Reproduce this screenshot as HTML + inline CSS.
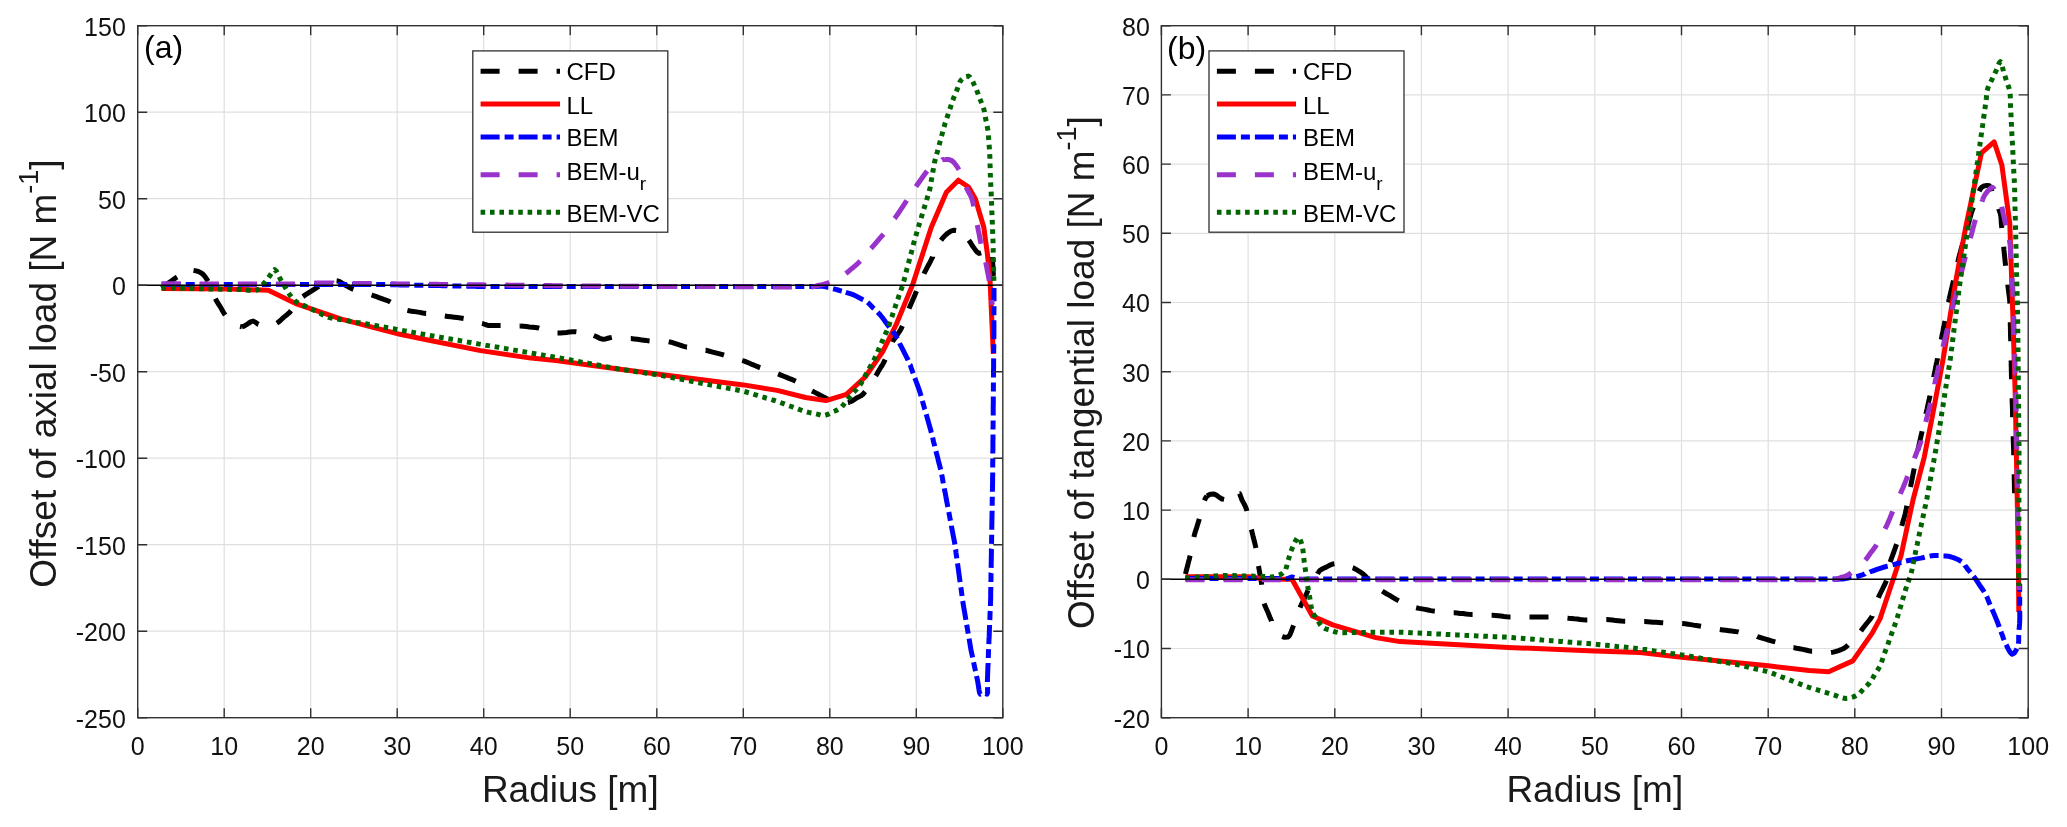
<!DOCTYPE html><html><head><meta charset="utf-8"><style>html,body{margin:0;padding:0;background:#fff;width:2067px;height:827px;overflow:hidden}svg{display:block;font-family:"Liberation Sans",sans-serif;will-change:transform}</style></head><body><svg width="2067" height="827" viewBox="0 0 2067 827" font-family="Liberation Sans, sans-serif"><rect width="2067" height="827" fill="#fff"/><g stroke="#dfdfdf" stroke-width="1.2"><line x1="224.2" y1="25.7" x2="224.2" y2="717.7"/><line x1="310.7" y1="25.7" x2="310.7" y2="717.7"/><line x1="397.2" y1="25.7" x2="397.2" y2="717.7"/><line x1="483.7" y1="25.7" x2="483.7" y2="717.7"/><line x1="570.2" y1="25.7" x2="570.2" y2="717.7"/><line x1="656.8" y1="25.7" x2="656.8" y2="717.7"/><line x1="743.3" y1="25.7" x2="743.3" y2="717.7"/><line x1="829.8" y1="25.7" x2="829.8" y2="717.7"/><line x1="916.3" y1="25.7" x2="916.3" y2="717.7"/><line x1="137.7" y1="631.2" x2="1002.8" y2="631.2"/><line x1="137.7" y1="544.7" x2="1002.8" y2="544.7"/><line x1="137.7" y1="458.2" x2="1002.8" y2="458.2"/><line x1="137.7" y1="371.7" x2="1002.8" y2="371.7"/><line x1="137.7" y1="285.2" x2="1002.8" y2="285.2"/><line x1="137.7" y1="198.7" x2="1002.8" y2="198.7"/><line x1="137.7" y1="112.2" x2="1002.8" y2="112.2"/></g><g stroke="#dfdfdf" stroke-width="1.2"><line x1="1248.1" y1="25.7" x2="1248.1" y2="717.7"/><line x1="1334.8" y1="25.7" x2="1334.8" y2="717.7"/><line x1="1421.4" y1="25.7" x2="1421.4" y2="717.7"/><line x1="1508.1" y1="25.7" x2="1508.1" y2="717.7"/><line x1="1594.8" y1="25.7" x2="1594.8" y2="717.7"/><line x1="1681.5" y1="25.7" x2="1681.5" y2="717.7"/><line x1="1768.2" y1="25.7" x2="1768.2" y2="717.7"/><line x1="1854.8" y1="25.7" x2="1854.8" y2="717.7"/><line x1="1941.5" y1="25.7" x2="1941.5" y2="717.7"/><line x1="1161.4" y1="648.5" x2="2028.2" y2="648.5"/><line x1="1161.4" y1="579.3" x2="2028.2" y2="579.3"/><line x1="1161.4" y1="510.1" x2="2028.2" y2="510.1"/><line x1="1161.4" y1="440.9" x2="2028.2" y2="440.9"/><line x1="1161.4" y1="371.7" x2="2028.2" y2="371.7"/><line x1="1161.4" y1="302.5" x2="2028.2" y2="302.5"/><line x1="1161.4" y1="233.3" x2="2028.2" y2="233.3"/><line x1="1161.4" y1="164.1" x2="2028.2" y2="164.1"/><line x1="1161.4" y1="94.9" x2="2028.2" y2="94.9"/></g><g fill="none" stroke-width="5" stroke-linejoin="round"><path d="M161.6 288 L164.1 286.2 L166.6 284.4 L169.1 282.6 L171.6 280.9 L174 279.1 L176.6 277.3 L177.1 277M193.5 270.5 L196.2 270.9 L198.8 271.7 L201.3 272.9 L203.7 275 L205.8 277.7 L207.6 280.6 L208 281.3M215.4 298.7 L215.8 299.5 L217.3 302.2 L219 304.9 L220.7 307.5 L222.2 310.2 L223.7 312.9 L225.2 315M240 326.4 L241.9 326.8 L241.9 326.8M241.9 326.8 L244.1 326.1 L246.5 324.7 L248.9 323 L251.2 321.6 L253.2 321.1 L255.7 322.4 L258.2 324.3 L258.5 324.4M276.8 323.2 L277.1 323 L279.4 321.4 L281.4 319.5 L283.4 317.6 L285.5 315.9 L287.6 314.2 L289.7 312.3 L291 310.7M302.9 296.6 L305.3 294.9 L307.7 293.4 L310.1 291.9 L312.5 290.3 L314.9 288.8 L317.4 287.2 L318.9 286.3M336.6 280.8 L337.5 280.9 L340.2 281.9 L342.6 283.5 L345.1 285 L347.5 286.4 L350 287.8 L352.6 289.1 L353.4 289.4M371.6 294.9 L372.7 295.3 L372.7 295.3M372.7 295.3 L375.6 296.3 L378.3 297.4 L381 298.4 L383.8 299.4 L386.6 300.3 L389.4 301.5 L390.4 302.1M407.4 310.4 L410.1 311 L413.3 311.4 L416.5 311.9 L419.7 312.4 L422.8 313 L426 313.5 L426.1 313.5M444.8 316 L447.9 316.4 L451.1 316.8 L454.2 317.2 L457.3 317.6 L460.5 318 L463.6 318.5 L463.6 318.5M482 323.4 L482.5 323.5 L485.2 324.5 L488 325.4 L490.2 325.6 L492.8 325.6 L495.5 325.5 L498.3 325.4 L500.6 325.4M519.6 326 L520.3 326 L520.3 326M520.3 326 L523.4 326.3 L526.4 326.6 L529.4 327 L532.4 327.3 L535.5 327.6 L538.5 328 L539.2 328.2M557.5 333 L560.4 333 L563.5 332.7 L566.5 332.4 L569.5 332 L572.6 331.7 L575.6 331.7 L576.4 331.8M593.8 335.5 L596.7 336.8 L599.6 338.3 L602.6 339.2 L605.7 338.9 L608.8 338 L611.8 337.4M630.8 338.6 L631 338.6 L634.2 338.9 L637.3 339.3 L640.5 339.8 L643.6 340.2 L646.7 340.6 L649.6 340.9M668.7 341.7 L671.7 342.4 L674.7 343.4 L677.8 344.4 L680.8 345.4 L683.8 346.4 L686.8 347.2 L686.9 347.2M705.6 350.3 L705.7 350.3 L708.7 351 L711.7 351.8 L714.7 352.6 L717.7 353.4 L720.7 354.2 L723.7 355 L724 355.1M742.2 360.4 L742.6 360.5 L742.6 360.5M742.6 360.5 L745.5 361.6 L748.4 362.8 L751.2 364.1 L754.1 365.2 L757 366.4 L759.9 367.6 L760.2 367.7M778.1 373.9 L780.9 375.1 L783.8 376.3 L786.6 377.4 L789.5 378.6 L792.4 379.7 L795.3 381 L795.7 381.2M812 390.9 L812.6 391.2 L812.6 391.2M812.6 391.2 L814.9 392.4 L817.1 393.6 L819.3 394.7 L821.5 395.9 L823.6 397 L826 398.2 L828.2 399.2 L829.5 399.9M847.9 402.6 L849.5 402.2 L849.5 402.2M849.5 402.2 L851.9 401.1 L854.1 399.7 L856.2 398.2 L858.5 397.1 L860.8 395.9 L862.9 394.3 L864.5 392.4 L865.1 391.7M875.7 375.9 L876.6 374.5 L878 372 L879.5 369.5 L881 367 L882.6 364.6 L884 362 L885.1 359.5M892.3 341.9 L892.5 341.4 L894.3 339 L896 336.5 L897.7 334.1 L899.4 331.6 L901 329 L902.1 326.6 L902.4 325.9M909 308.6 L910.1 306 L911.2 303.5 L912.3 301 L913.4 298.4 L914.5 295.9 L915.6 293.3 L916.5 291.1M924 273.7 L924.9 271.8 L926.2 269.3 L927.5 266.8 L928.9 264.3 L930.2 261.8 L931.5 259.2 L932.7 256.9 L932.7 256.8M941 240.3 L942.6 238.2 L944.3 236.3 L946.2 234.5 L948 233 L950.9 231.1 L954 230.2 L956.1 230.5M968.8 240.3 L970.6 242.8 L972.2 245.5 L973.9 247.9 L975.5 250.1 L977.2 252.2 L979 253.4 L981.2 252.8M992.3 257 L992.3 257.2 L992.5 260.6 L992.7 263.2 L992.9 265.8 L993 268.5 L993.1 271.1 L993.2 273.8 L993.4 276" stroke="#000"/><path d="M161.5 288.6 L230 289 L268.3 290.3 L297.2 304.2 L341.3 319.2 L400 334.3 L430.3 340.5 L480.6 350.6 L531 358.1 L556 360.6 L620 369.2 L657 373.9 L743.4 384.9 L777.2 390.4 L805.5 397.5 L826 400.6 L846.4 394.3 L865.2 377 L882.6 351.8 L895.9 325.2 L912.6 284.8 L931.3 227.3 L946.4 192.3 L958.4 180.2 L968.5 187 L975.3 198.8 L983.8 227.3 L987.4 253.9 L990 279.3 L993.3 353.8" stroke="#f00"/><path d="M161.6 284.5 L164.3 284.5 L167.1 284.5 L169.8 284.5 L172.5 284.5 L175.2 284.5 L178 284.5 L180.7 284.5M185.7 284.5 L186.2 284.5 L188.9 284.5 L191.6 284.5 L194.4 284.5 L194.7 284.5M199.7 284.5 L199.8 284.5 L202.6 284.5 L205.3 284.5 L208 284.5 L210.7 284.5 L213.5 284.5 L216.2 284.5 L218.8 284.5M223.8 284.5 L224.4 284.5 L227.1 284.5 L229.8 284.5 L232.6 284.5 L232.8 284.5M237.8 284.5 L238 284.5 L240.8 284.5 L243.5 284.5 L246.2 284.5 L249 284.5 L251.7 284.5 L254.4 284.5 L256.9 284.5M261.9 284.5 L262.6 284.5 L265.3 284.5 L268.1 284.5 L270.8 284.5 L270.9 284.5M275.9 284.5 L276.3 284.5 L279 284.5 L281.7 284.5 L284.4 284.5 L287.2 284.5 L289.9 284.5 L292.6 284.5 L295 284.5M300 284.5 L300.8 284.5 L303.6 284.5 L306.3 284.5 L309 284.5M314 284.5 L314.5 284.5 L317.2 284.5 L319.9 284.5 L322.7 284.5 L325.4 284.5 L328.1 284.5 L330.9 284.5 L333.1 284.5M338.1 284.5 L339 284.5 L341.8 284.5 L344.5 284.5 L347.1 284.5M352.1 284.5 L352.7 284.5 L355.4 284.5 L358.2 284.5 L360.9 284.5 L363.6 284.5 L366.4 284.5 L369.1 284.5 L371.2 284.5M376.2 284.5 L377.3 284.5 L380 284.5 L382.5 284.5 L385 284.6 L385.2 284.6M390.2 284.7 L392.5 284.7 L395 284.8 L397.5 284.8 L400 284.9 L402.5 284.9 L405 285 L407.5 285 L409.3 285.1M414.3 285.2 L415 285.2 L417.5 285.2 L420 285.3 L422.5 285.3 L423.3 285.3M428.3 285.4 L430 285.4 L432.5 285.5 L435 285.5 L437.5 285.6 L440 285.6 L442.5 285.7 L445 285.7 L447.4 285.8M452.4 285.9 L452.5 285.9 L455 285.9 L457.5 286 L460 286 L461.4 286M466.4 286.1 L467.5 286.2 L470 286.2 L472.5 286.3 L475 286.3 L477.5 286.4 L480 286.4 L482.7 286.4 L485.5 286.4 L485.5 286.4M490.5 286.4 L491 286.4 L493.8 286.4 L496.5 286.4 L499.3 286.4 L499.5 286.4M504.5 286.4 L504.8 286.4 L507.6 286.4 L510.3 286.4 L513.1 286.4 L515.8 286.4 L518.6 286.4 L521.3 286.4 L523.6 286.4M528.6 286.4 L529.6 286.4 L532.4 286.4 L535.1 286.4 L537.6 286.4M542.6 286.4 L543.4 286.4 L546.1 286.4 L548.9 286.4 L551.7 286.4 L554.4 286.4 L557.2 286.4 L559.9 286.4 L561.7 286.4M566.7 286.4 L568.2 286.4 L570.9 286.4 L573.7 286.4 L575.7 286.4M580.7 286.4 L582 286.4 L584.7 286.4 L587.5 286.4 L590.2 286.4 L593 286.4 L595.8 286.4 L598.5 286.4 L599.8 286.4M604.8 286.4 L606.8 286.4 L609.5 286.4 L612.3 286.4 L613.8 286.4M618.8 286.4 L620.6 286.4 L623.3 286.4 L626.1 286.4 L628.8 286.4 L631.6 286.4 L634.3 286.4 L637.1 286.4 L637.9 286.4M642.9 286.4 L645.4 286.4 L648.1 286.4 L650.9 286.4 L651.9 286.4M656.9 286.5 L659.1 286.5 L661.9 286.5 L664.7 286.5 L667.4 286.5 L670.2 286.5 L672.9 286.5 L675.7 286.5 L676 286.5M681 286.5 L681.2 286.5 L683.9 286.5 L686.7 286.5 L689.5 286.5 L690 286.5M695 286.5 L697.7 286.5 L700.5 286.5 L703.2 286.5 L706 286.5 L708.7 286.5 L711.5 286.5 L714.1 286.5M719.1 286.5 L719.8 286.5 L722.5 286.5 L725.3 286.5 L728 286.5 L728.1 286.5M733.1 286.5 L733.6 286.5 L736.3 286.5 L739.1 286.5 L741.8 286.5 L744.6 286.5 L747.3 286.5 L750.1 286.5 L752.2 286.5M757.2 286.5 L758.4 286.5 L761.1 286.5 L763.9 286.5 L766.2 286.5M771.2 286.5 L772.1 286.5 L774.9 286.5 L777.6 286.5 L780.4 286.5 L783.2 286.5 L785.9 286.5 L788.7 286.5 L790.3 286.5M795.3 286.5 L796.9 286.5 L799.7 286.5 L802.5 286.5 L804.3 286.5M809.3 286.5 L810.7 286.5 L813.6 286.5 L816.5 286.4 L819.3 286.3 L822.1 286.3 L824.5 286.5 L828.1 287.3 L828.3 287.3M833.1 288.7 L834.7 289.1 L838.1 290 L840.6 290.8 L841.8 291.1M845.8 292.4 L848.4 293.2 L851 293.9 L853.5 294.8 L855.8 295.9 L858 297.1 L860.2 298.3 L862.5 299.4 L863.3 299.8M867.6 302.4 L869.1 303.7 L871.3 306 L873.4 308.2 L874 308.7M877.6 312.2 L877.7 312.3 L879.9 314.6 L881.5 316.5 L883.1 318.6 L884.7 320.8 L886.3 323.1 L887.9 325.2 L889.4 327.2M892.5 331.1 L892.9 331.7 L894.5 333.8 L895.9 335.9 L897.4 338.6M899.6 343.1 L900.3 344.8 L901.8 347.7 L903.3 350.7 L904.8 353.6 L906.3 356.6 L907.8 359.5 L908.1 360.2M910.1 364.8 L910.2 364.9 L911 367.3 L911.9 369.8 L912.7 372.2 L913.1 373.3M914.8 378 L915.4 379.5 L916.3 382 L917.2 384.4 L918.1 386.8 L918.9 389.2 L919.8 391.7 L920.5 394.1 L921.1 396M922.4 400.8 L922.6 401.6 L923.3 404.1 L924 406.6 L924.7 409.1 L924.9 409.5M926.2 414.3 L926.9 416.6 L927.6 419.1 L928.3 421.6 L929 424.1 L929.7 426.6 L930.4 429 L931.1 431.7 L931.4 432.7M932.6 437.5 L933.1 439.6 L933.7 442.3 L934.4 444.9 L934.7 446.3M936 451.1 L936.4 452.9 L937.1 455.6 L937.8 458.2 L938.4 460.9 L939.1 463.5 L939.8 466.1 L940.5 468.8 L940.7 469.6M941.7 474.5 L942.3 477.5 L942.8 480.5 L943.3 483.4M944.3 488.3 L944.5 489.6 L945.1 492.6 L945.7 495.6 L946.2 498.6 L946.8 501.7 L947.4 504.7 L947.8 507M948.8 512 L949.1 513.7 L949.7 516.8 L950.2 519.8 L950.4 520.8M951.4 525.7 L951.4 525.8 L951.9 528.8 L952.5 531.8 L953.1 534.9 L953.7 537.9 L954.3 540.9 L954.8 543.9 L954.9 544.5M955.6 549.4 L955.7 549.8 L956 552.8 L956.4 555.7 L956.8 558.4M957.5 563.3 L957.7 564.5 L958.1 567.5 L958.5 570.5 L958.9 573.4 L959.3 576.4 L959.7 579.3 L960.1 582.2M960.8 587.2 L961 588.2 L961.4 591.1 L961.8 594.1 L962 596.1M962.7 601 L963 602.9 L963.5 605.8 L964 608.8 L964.5 611.7 L965 614.7 L965.5 617.6 L965.9 619.9M966.7 624.8 L967 626.5 L967.5 629.4 L968 632.3 L968.2 633.7M969.1 638.6 L969.5 641.2 L970 644.1 L970.5 647.1 L971 650 L971.6 652.8 L972.2 655.5 L972.6 657.4M973.6 662.3 L973.9 663.8 L974.5 666.6 L975.1 669.3 L975.5 671.1M976.5 676 L976.9 677.6 L977.5 680.4 L978 683.2 L978.5 686.3 L979 689.8 L979.5 692.7 L980.4 694.2 L980.7 694.1M985.2 693.7 L985.3 693.7 L987 694.2 L987.6 692.6 L987.6 689.8 L987.5 687.1M987.4 682.1 L987.4 680.7 L987.5 678 L987.6 675.3 L987.7 672.5 L987.8 669.5 L987.9 666.5 L988.1 663.5 L988.1 663.1M988.3 658.1 L988.3 657.4 L988.4 654.4 L988.5 651.4 L988.6 649.1M988.8 644.1 L988.9 642.3 L989 639.3 L989.2 636.2 L989.3 633.2 L989.4 630.2 L989.5 627.2 L989.6 625M989.8 620 L989.9 618.1 L990 615.1 L990.1 612.1 L990.2 611M990.4 606 L990.5 603.1 L990.6 600 L990.7 597.4 L990.7 594.7 L990.7 592 L990.8 589.3 L990.8 586.9M990.9 581.9 L990.9 581.3 L991 578.7 L991 576 L991 573.3 L991.1 572.9M991.1 567.9 L991.2 565.3 L991.2 562.7 L991.3 560 L991.3 557.3 L991.4 554.7 L991.4 552 L991.4 549.3 L991.5 548.8M991.5 543.8 L991.6 541.3 L991.6 538.7 L991.7 536 L991.7 534.8M991.8 529.8 L991.8 528 L991.8 525.3 L991.9 522.7 L991.9 520 L992 517.3 L992 514.7 L992.1 512 L992.1 510.7M992.2 505.7 L992.2 504 L992.2 501.3 L992.3 498.7 L992.3 496.7M992.4 491.7 L992.4 490.7 L992.5 488 L992.5 485.3 L992.6 482.7 L992.6 480 L992.6 477.3 L992.7 474.6 L992.7 472.6M992.7 467.6 L992.7 466.4 L992.7 463.6 L992.8 460.9 L992.8 458.6M992.8 453.6 L992.8 452.7 L992.9 450 L992.9 447.3 L992.9 444.5 L992.9 441.8 L993 439.1 L993 436.4 L993 434.5M993 429.5 L993 428.2 L993.1 425.5 L993.1 422.7 L993.1 420.5M993.2 415.5 L993.2 414.5 L993.2 411.8 L993.2 409.1 L993.2 406.4 L993.3 403.6 L993.3 400.9 L993.3 398.2 L993.3 396.4M993.4 391.4 L993.4 390 L993.4 387.3 L993.4 384.5 L993.4 382.4M993.5 377.4 L993.5 376.4 L993.5 373.6 L993.5 370.9 L993.6 368.2 L993.6 365.5 L993.6 362.7 L993.6 360 L993.7 358.3M993.7 353.3 L993.7 351.8 L993.7 349.1 L993.8 346.4 L993.8 344.3M993.8 339.3 L993.8 338.1 L993.9 335.3 L993.9 332.6 L993.9 330 L993.9 327.3 L993.9 324.7 L993.9 322.1 L993.9 320.2M993.9 315.2 L993.9 314.2 L993.9 311.6 L994 309 L994 306.4 L994 306.2M994 301.2 L994 301.1 L994 298.5 L994 295.9 L994 293.2 L994 290.6 L994 288" stroke="#00f"/><path d="M161.6 283.8 L164.2 283.8 L166.7 283.8 L169.3 283.8 L171.9 283.8 L174.4 283.8 L177 283.8 L179.6 283.8 L180.7 283.8M199.8 283.9 L200.1 283.9 L202.7 283.9 L205.3 283.9 L207.8 283.9 L210.4 283.9 L213 283.9 L215.5 283.9 L218.1 283.9 L218.9 283.9M238 283.9 L238.6 283.9 L241.2 283.9 L243.8 283.9 L246.3 283.9 L248.9 283.9 L251.5 283.9 L254 283.9 L256.6 283.9 L257.1 283.9M276.2 284 L277.2 284 L279.8 284 L282.4 284 L285 284 L287.5 284 L290 284 L292.6 283.9 L295.1 283.9 L295.3 283.8M314.4 283.2 L314.9 283.1 L317.4 283.1 L320 283 L322.5 283 L325.2 283 L327.9 283.1 L330.6 283.1 L333.3 283.1 L333.5 283.2M352.6 283.4 L354.7 283.4 L357.3 283.4 L360 283.4 L362.7 283.5 L365.3 283.5 L368 283.5 L370.7 283.6 L371.7 283.6M390.8 283.8 L392 283.8 L394.7 283.8 L397.3 283.9 L400 283.9 L402.7 283.9 L405.3 284 L408 284 L409.9 284M429 284.2 L429.3 284.2 L432 284.3 L434.7 284.3 L437.3 284.3 L440 284.4 L442.7 284.4 L445.3 284.4 L448 284.4 L448.1 284.4M467.2 284.7 L469.3 284.7 L472 284.7 L474.7 284.7 L477.4 284.8 L480 284.8 L482.5 284.8 L485 284.9 L486.3 284.9M505.4 285.1 L507.5 285.1 L510 285.2 L512.5 285.2 L515 285.2 L517.5 285.2 L520 285.3 L522.5 285.3 L524.5 285.3M543.6 285.6 L545 285.6 L547.5 285.6 L550 285.6 L552.5 285.7 L555 285.7 L557.5 285.7 L560 285.8 L562.5 285.8 L562.7 285.8M581.8 286 L582.7 286 L585.4 286 L588.1 286 L590.9 286.1 L593.6 286.1 L596.3 286.1 L599 286.1 L600.9 286.1M620 286.2 L620.8 286.2 L623.5 286.2 L626.2 286.2 L628.9 286.2 L631.6 286.2 L634.4 286.3 L637.1 286.3 L639.1 286.3M658.2 286.4 L658.8 286.4 L661.5 286.4 L664.2 286.4 L667 286.4 L669.7 286.4 L672.4 286.4 L675.1 286.5 L677.3 286.5M696.4 286.6 L696.9 286.6 L699.6 286.6 L702.3 286.6 L705 286.6 L707.7 286.6 L710.4 286.6 L713.2 286.6 L715.5 286.6M734.6 286.7 L734.9 286.7 L737.6 286.8 L740.3 286.8 L743.1 286.8 L745.8 286.8 L748.5 286.8 L751.2 286.8 L753.7 286.8M772.8 286.9 L773 286.9 L775.7 286.9 L778.4 286.9 L781.1 287 L783.8 287 L786.5 287 L789.3 287 L791.9 287M811 287.1 L811 287.1 L813.9 286.6 L816.5 285.9 L819.2 285.1 L821.9 284.6 L824.7 284 L827.4 283.2 L829.4 282.3M845.8 273.5 L847.9 271.9 L849.7 270.3 L851.6 268.7 L853.5 267.2 L855.4 265.6 L857.4 263.9 L859.3 261.9 L860.2 261M871 248.5 L872.9 246.4 L874.9 244.1 L876.8 241.9 L878.7 239.6 L880.6 237.4 L882.6 235.2 L883.5 234.1M894.6 218.5 L894.7 218.4 L896.1 216.4 L896.1 216.4M896.1 216.4 L897.8 214 L899.4 211.6 L901 209.2 L902.6 206.8 L904.2 204.4 L905.8 201.9 L906.7 200.5M916 186.6 L917.4 184.5 L919 182.2 L920.6 180 L922.2 177.8 L923.8 175.5 L925.4 173.3 L927.1 171M942.1 159.9 L942.2 159.8 L944.5 159.4 L944.5 159.4M944.5 159.4 L948.2 159.4 L951.6 160.5 L953.7 162.2 L955.7 164.7 L957.6 167.4 L958.9 169.7M966.2 187.3 L966.8 188.7 L966.8 188.7M966.8 188.7 L968.1 191.2 L969.4 193.6 L970.8 196.1 L971.9 198.8 L972.6 201.3 L973.2 203.9 L973.6 206.4M977.3 225 L977.9 228 L978.4 230.7 L979 233.5 L979.5 236.3 L980 239.1 L980.6 242 L981 243.7M985.7 262.3 L986.3 265.3 L986.9 268.3 L987.4 271.2 L988 274.1 L988.6 277 L989.1 280.1 L989.2 281.1M991.7 300 L991.9 301.7 L992.3 304.8" stroke="#9933cc"/><path d="M161.5 287.8 L164.2 287.9 L167 287.9 L169.7 288 L172.4 288.1 L175.1 288.1 L177.9 288.2 L180.6 288.2 L183.3 288.3 L186.1 288.4 L188.8 288.4 L191.5 288.5 L194.2 288.6 L197 288.6 L199.7 288.7 L202.4 288.7 L205.2 288.8 L207.9 288.9 L210.6 288.9 L213.3 289 L216.1 289.1 L218.8 289.1 L221.5 289.2 L224.3 289.2 L227 289.3 L229.7 289.4 L232.4 289.4 L235.2 289.5 L237.9 289.6 L240.6 289.6 L243.4 289.7 L246.2 289.9 L249.1 290.3 L251.9 290.6 L254.6 290.5 L257 290 L259.4 288.5 L261.4 286.5 L263.3 284.1 L265 282 L266.7 279.9 L268.3 277.9 L269.8 275.8 L271.4 273.3 L273 270.7 L274.6 269.6 L276.3 271.1 L277.9 274.4 L279.6 277.7 L280.9 279.9 L282.2 282.1 L283.4 284.3 L284.7 286.5 L286.3 289.3 L287.9 292.1 L289.7 294.7 L291.6 297.2 L293.6 299.5 L296 301.6 L298.4 303.1 L301.2 304.4 L304.1 305.6 L306.9 306.9 L309.6 308.2 L312.4 309.5 L315.1 310.8 L317.8 312.1 L320.5 313.5 L323.2 315 L325.9 316.3 L328.7 317.4 L331.5 318.1 L334.3 318.6 L337.1 319 L340 319.4 L342.8 319.9 L345.6 320.4 L348.4 320.9 L351.2 321.4 L354 321.9 L356.9 322.4 L359.7 322.8 L362.5 323.3 L365.3 323.8 L368.1 324.3 L370.9 324.8 L373.7 325.3 L376.6 325.8 L379.4 326.3 L382.2 326.8 L385 327.3 L387.8 327.8 L390.7 328.3 L393.5 328.8 L396.3 329.4 L399.2 329.9 L402 330.4 L404.8 330.9 L407.6 331.4 L410.5 331.9 L413.3 332.4 L416.1 332.9 L419 333.4 L421.8 334 L424.6 334.5 L427.4 335 L430.3 335.5 L432.8 335.9 L435.3 336.4 L437.8 336.8 L440.3 337.3 L442.9 337.7 L445.4 338.1 L447.9 338.6 L450.4 339 L452.9 339.5 L455.5 339.9 L458 340.3 L460.5 340.8 L463 341.2 L465.5 341.7 L468 342.1 L470.5 342.5 L473.1 343 L475.6 343.4 L478.1 343.9 L480.6 344.3 L483.1 344.7 L485.6 345.2 L488.2 345.6 L490.7 346 L493.2 346.5 L495.7 346.9 L498.2 347.3 L500.8 347.8 L503.3 348.2 L505.8 348.6 L508.3 349.1 L510.8 349.5 L513.4 350 L515.9 350.4 L518.4 350.8 L520.9 351.3 L523.5 351.7 L526 352.1 L528.5 352.6 L531 353 L533.8 353.5 L536.5 354 L539.2 354.4 L541.9 354.9 L544.6 355.4 L547.3 355.9 L550 356.3 L552.7 356.8 L555.4 357.3 L558.2 357.7 L560.9 358.2 L563.6 358.7 L566.4 359.2 L569.2 359.7 L572.1 360.3 L574.9 360.8 L577.7 361.3 L580.5 361.9 L583.3 362.4 L586.2 362.9 L589 363.4 L591.8 363.9 L594.6 364.5 L597.4 365 L600.3 365.5 L603.1 366 L605.9 366.6 L608.7 367.1 L611.5 367.6 L614.3 368.2 L617.1 368.7 L620 369.2 L623 369.7 L626.1 370.1 L629.2 370.6 L632.3 371 L635.4 371.5 L638.5 372 L641.6 372.4 L644.7 372.9 L647.8 373.3 L650.8 373.8 L653.9 374.2 L657 374.7 L659.5 375.1 L661.9 375.6 L664.4 376.1 L666.9 376.6 L669.3 377.1 L671.8 377.5 L674.3 378 L676.7 378.5 L679.2 378.9 L681.7 379.4 L684.2 379.9 L686.6 380.4 L689.1 380.8 L691.6 381.3 L694 381.8 L696.5 382.2 L699 382.7 L701.4 383.2 L703.9 383.7 L706.4 384.1 L708.8 384.6 L711.3 385.1 L713.8 385.5 L716.2 386 L718.7 386.5 L721.2 387 L723.7 387.4 L726.1 387.9 L728.6 388.4 L731.1 388.8 L733.5 389.3 L736 389.7 L738.5 390.2 L741 390.7 L743.4 391.2 L746.3 392 L749.1 392.8 L751.9 393.7 L754.7 394.6 L757.5 395.4 L760.3 396.3 L763.1 397.1 L765.9 398 L768.8 398.8 L771.6 399.7 L774.5 400.5 L777.2 401.4 L779.6 402.2 L782 403.1 L784.3 403.9 L786.6 404.8 L789 405.7 L791.4 406.5 L793.7 407.4 L796.1 408.2 L798.4 409.1 L800.8 410 L803.1 410.9 L805.5 411.6 L808.6 412.4 L811.8 413 L815 413.6 L818.1 414.4 L821.3 415.3 L824.4 415.5 L827.1 414.7 L829.6 413.4 L832.2 412 L834.9 411 L837.5 409.9 L840 408.5 L841.8 406.8 L843.5 404.8 L845 402.7 L846.7 400.7 L848.3 398.7 L850 396.8 L851.7 394.8 L853.3 392.8 L855 390.9 L856.8 389 L858.5 387 L860 385 L861.7 382.3 L863.2 379.5 L864.7 376.7 L866.2 373.9 L867.8 371.1 L869.3 368.3 L870.9 365.6 L872.5 362.9 L874 360 L875.2 357.4 L876.4 354.8 L877.5 352 L878.7 349.3 L879.8 346.7 L881 344 L882.2 341.3 L883.3 338.7 L884.5 336 L885.7 333.4 L886.9 330.7 L888 328 L889 325.3 L889.9 322.5 L890.8 319.8 L891.8 317 L892.7 314.2 L893.6 311.5 L894.6 308.8 L895.5 306 L896.4 303.2 L897.4 300.5 L898.3 297.8 L899.2 295 L900.2 292.3 L901.2 289.5 L902.1 286.8 L903 284 L903.8 281.1 L904.6 278.1 L905.4 275.2 L906.1 272.2 L906.9 269.2 L907.7 266.3 L908.5 263.3 L909.2 260.4 L910 257.4 L910.8 254.5 L911.6 251.6 L912.4 248.6 L913.1 245.6 L913.9 242.7 L914.7 239.7 L915.5 236.8 L916.4 233.9 L917.2 230.9 L918.1 228 L919 225.1 L919.9 222.2 L920.8 219.3 L921.7 216.3 L922.5 213.4 L923.4 210.5 L924.3 207.6 L925.2 204.6 L926.1 201.7 L927 198.7 L927.9 195.8 L928.8 192.8 L929.6 190 L930.3 186.8 L930.8 183.7 L931.3 180.5 L931.9 177.4 L932.4 174.2 L933 171.1 L933.5 168 L934.1 164.8 L934.7 161.6 L935.3 159.2 L935.9 156.7 L936.6 154.2 L937.4 151.7 L938.1 149.2 L938.7 146.7 L939.4 144.2 L940.1 141.7 L940.8 139.2 L941.4 136.7 L942.1 134.2 L942.7 131.8 L943.4 129.3 L944.1 126.8 L944.8 124.3 L945.6 121.8 L946.4 119.2 L947.3 116.7 L948.2 114.1 L949 111.6 L949.9 109 L950.7 106.4 L951.6 103.8 L952.4 101.3 L953.3 98.9 L954.2 96.5 L955.2 94.2 L956.1 91.9 L957.1 89.6 L957.9 87.2 L958.7 84.6 L959.6 82.3 L960.9 80.3 L963.2 78.1 L966 76.5 L968.5 76.1 L970.1 77.2 L971.5 79.2 L972.9 81.8 L974.1 84.6 L975.3 87.1 L976.5 89.8 L977.6 92.6 L978.5 95.3 L979.5 98.1 L980.7 100.8 L981.8 103.6 L982.9 106.3 L983.8 109.1 L984.5 111.8 L985 114.6 L985.4 117.3 L985.9 120.1 L986.5 122.8 L987 125.6 L987.6 128.3 L988 131.1 L988.3 133.8 L988.5 136.6 L988.7 139.3 L988.9 142.1 L989.1 144.8 L989.3 147.5 L989.5 150.3 L989.7 153.1 L989.8 155.6 L989.9 158.1 L990 160.7 L990 163.2 L990.1 165.8 L990.2 168.4 L990.3 170.9 L990.3 173.5 L990.4 176.1 L990.5 178.5 L990.6 181.1 L990.7 183.6 L990.8 186.1 L991 188.7 L991.1 191.2 L991.2 193.7 L991.3 196.3 L991.4 198.8 L991.5 201.4 L991.6 204 L991.7 206.7 L991.8 209.3 L991.9 211.9 L992 214.6 L992.1 217.2 L992.2 219.8 L992.3 222.4 L992.4 225.1 L992.5 227.7 L992.6 230.3 L992.7 232.9 L992.8 235.5 L992.9 238.2 L993 240.8 L993.1 243.4 L993.1 246.1 L993.2 248.7 L993.2 251.4 L993.3 254 L993.3 256.7 L993.4 259.3 L993.5 262 L993.5 264.6 L993.6 267.2 L993.6 269.9 L993.7 272.5 L993.7 275.2 L993.8 277.8 L993.8 280.5 L993.9 283.1" stroke="#006400" stroke-dasharray="4.6 4.8"/></g><g fill="none" stroke-width="5" stroke-linejoin="round"><path d="M1185.5 574 L1186.2 571 L1187 568 L1187.8 565 L1188.5 562 L1189.3 559.1 L1190 556 L1190.1 555.6M1193.9 537 L1194.5 534.5 L1195.2 532 L1196 529.6 L1196.8 527.2 L1197.5 524.8 L1198.3 522.4 L1199 520 L1199.3 518.8M1204.5 500.5 L1205.3 498.5 L1207 496 L1207 496M1207 496 L1210.3 494.3 L1214 494 L1216.6 495.3 L1219.3 497.4 L1222 499 L1224.1 499.4M1239.5 493.6 L1239.6 493.6 L1240.8 496.8 L1242 500 L1243.4 502.6 L1244.8 505.2 L1246 508 L1246.8 510.4 L1246.9 511M1251.4 529.5 L1251.8 531 L1252.5 534 L1253.2 537 L1254 540 L1254.8 543 L1255.5 546 L1255.9 548M1258.5 566 L1259 568.9 L1259.5 571.7 L1260 574.5 L1260.5 577.3 L1261 580.1 L1261.5 583 L1261.7 584.7M1264.2 603.5 L1265.1 606.1 L1266.4 609 L1267.8 612 L1269 615 L1270.2 618.1 L1271.5 621 L1271.5 621.1M1282.2 636.4 L1284.5 637.3 L1288 637 L1289.7 635.2 L1291 632.3 L1292.2 629 L1293.3 626 L1293.5 625.4M1300.1 607.6 L1300.5 606.5 L1301.6 604 L1302.8 601.6 L1304 599.1 L1305.2 596.6 L1306.3 594.2 L1307.4 591.7 L1308 590.3M1317.5 573.9 L1318.1 572.7 L1318.1 572.7M1318.1 572.7 L1320 570.3 L1323.1 568.5 L1326.3 567.1 L1329.4 565.4 L1332.7 564 L1334.4 563.7M1352.7 567.7 L1353 567.8 L1355.7 569.2 L1358.4 570.8 L1361 572.4 L1363.2 574.1 L1365.9 576.6 L1367.9 578.8M1382.3 591.1 L1383.5 591.9 L1386.1 593.5 L1388.6 594.9 L1391.1 596.3 L1393.6 597.9 L1396.1 599.4 L1398.7 600.8M1416.1 607.7 L1419 608.4 L1422 608.9 L1425 609.4 L1427.9 610 L1430.9 610.6 L1433.9 611.1 L1434.8 611.2M1453.7 612.8 L1454.2 612.8 L1457.2 613.1 L1460.1 613.4 L1463.1 613.6 L1466 614 L1468.9 614.3 L1471.9 614.5 L1472.6 614.5M1491.6 615.3 L1492.2 615.3 L1495.2 615.5 L1498.2 615.8 L1501.1 616.1 L1504 616.5 L1506.9 616.8 L1510 617 L1510.5 617M1529.5 617 L1530.3 617 L1532.9 617 L1535.4 617 L1538 617 L1540.5 617 L1543.1 616.9 L1545.7 617 L1548.1 617 L1548.5 617M1567.5 618.1 L1568.4 618.2 L1568.4 618.2M1568.4 618.2 L1571.4 618.5 L1574.4 618.8 L1577.3 619 L1580.2 619.4 L1583.2 619.7 L1586.2 619.9 L1587.3 619.9M1606.3 619.6 L1606.5 619.6 L1609.5 619.8 L1612.5 620.1 L1615.4 620.4 L1618.3 620.7 L1621.3 621 L1624.3 621.2 L1625.2 621.2M1644.2 621.6 L1644.6 621.6 L1647.5 621.8 L1650.4 622 L1653.2 622.2 L1656 622.3 L1658.9 622.5 L1661.8 622.7 L1663.2 622.8M1682.2 623.4 L1682.3 623.4 L1685.2 623.8 L1688 624.2 L1690.8 624.6 L1693.6 625.1 L1696.4 625.5 L1699.3 625.9 L1701 626.2M1719.8 629.5 L1722.9 629.9 L1725.9 630.3 L1728.8 630.7 L1731.9 631.1 L1734.9 631.4 L1737.9 631.9 L1738.6 632.1M1757.1 636.6 L1757.3 636.7 L1760.2 637.5 L1763 638.3 L1765.8 639.2 L1768.5 640 L1771.3 640.8 L1774.2 641.6 L1775.3 641.9M1793.5 647.6 L1793.6 647.6 L1796.6 648.3 L1799.6 648.8 L1802.7 649.4 L1805.7 650 L1808.7 650.7 L1811.7 651.2 L1812.1 651.2M1831 652.5 L1833.4 652.1 L1836 651.4 L1838.6 650.6 L1841 649.7 L1843.1 648.8 L1845.7 647.2 L1848 645.2 L1848.1 645.1M1860.9 631 L1862.1 629.3 L1864.1 626.7 L1866.2 624 L1868.3 621.5 L1870.4 618.9 L1872.2 616.2 L1872.3 615.8M1878.3 597.8 L1879.5 595 L1881 592 L1882.5 589 L1884 585.9 L1885.5 582.9 L1886.4 580.6M1890.2 562.1 L1890.3 561.8 L1891.2 559 L1892.3 556.2 L1893.3 553.4 L1894.3 550.6 L1895.3 547.9 L1896.3 545 L1896.6 544.1M1901.8 525.9 L1902.2 524.2 L1902.2 524.2M1902.2 524.2 L1903 521.6 L1903.8 519.1 L1904.5 516.5 L1905.2 513.8 L1905.7 511.4 L1906.3 508.9 L1906.7 506.3 L1906.8 505.8M1910.5 487.1 L1910.7 486.1 L1911.2 483.6 L1911.7 481.1 L1912.2 478.6 L1912.7 476.1 L1913.2 473.5 L1913.7 471 L1914.2 468.5 L1914.2 468.5M1917.9 449.9 L1918.3 448 L1919 445.2 L1919.6 442.4 L1920.2 439.6 L1920.8 436.8 L1921.5 433.9 L1922.1 431.3M1925.9 414.1 L1926.5 411.3 L1927.2 408.5 L1927.8 405.6 L1928.4 402.8 L1929 400 L1929.7 397.2 L1930 395.6M1933.8 376.9 L1933.8 376.7 L1934.3 374.2 L1934.8 371.7 L1935.3 369.1 L1935.8 366.6 L1936.3 364.1 L1936.9 361.6 L1937.4 359.1 L1937.5 358.3M1941.2 339.7 L1941.4 338.9 L1941.9 336.3 L1942.4 333.8 L1942.9 331.4 L1943.5 328.1 L1944.2 324.8 L1944.8 321.6 L1944.9 321M1948.4 302.4 L1948.5 302.1 L1949.1 299.2 L1949.1 299.2M1949.1 299.2 L1949.8 296.3 L1950.5 293.3 L1951.2 290.3 L1951.9 287.4 L1952.6 284.4 L1953.3 281.5 L1953.5 280.7M1957.8 262.2 L1958.1 260.9 L1958.8 257.9 L1959.5 255 L1960.3 252.2 L1961 249.5 L1961.8 246.7 L1962.6 244 L1962.7 243.9M1967.9 225.6 L1968.1 224.8 L1968.9 222 L1969.6 219.3 L1970.4 216.5 L1971.1 213.8 L1972 211 L1972.9 208.7 L1973.3 207.4M1979.2 191.3 L1980.2 189.1 L1981.5 187.4 L1984 186 L1987 185.4 L1989.4 185.8 L1990.7 187.3 L1991.6 189.8 L1991.9 191.2M1998.6 208.9 L1998.7 209.3 L1998.7 209.3M1998.7 209.3 L1999.7 211.6 L2000.4 214.1 L2000.9 216.9 L2001.2 219.9 L2001.3 222.9 L2001.6 225.9 L2001.8 227.9M2003.7 246.8 L2003.9 249.5 L2004.2 252.4 L2004.5 255.3 L2004.8 258.3 L2005.1 261.3 L2005.4 264 L2005.6 265.7M2007.8 284.6 L2007.9 285.8 L2008.2 288.5 L2008.6 291.2 L2008.9 294 L2009.3 296.7 L2009.6 299.4 L2009.8 302.1 L2009.9 303.5M2010.3 322.3 L2010.3 324.9 L2010.4 327.4 L2010.4 329.9 L2010.5 332.5 L2010.5 335 L2010.6 337.5 L2010.7 340.1 L2010.7 341.3M2011.1 360.3 L2011.2 362.8 L2011.2 365.4 L2011.3 367.9 L2011.3 370.4 L2011.4 373 L2011.4 375.5 L2011.5 378 L2011.5 379.3M2012.1 398.3 L2012.1 399 L2012.2 402 L2012.3 405 L2012.4 408 L2012.5 411 L2012.5 414 L2012.6 417 L2012.6 417.3M2013.2 436.3 L2013.2 438 L2013.3 441 L2013.4 444 L2013.5 447 L2013.6 450 L2013.7 453 L2013.7 455.3M2014.2 474.3 L2014.2 474.4 L2014.2 477.4 L2014.3 480.5 L2014.4 483.5 L2014.4 486.6 L2014.5 489.6 L2014.6 492.7 L2014.6 493.3" stroke="#000"/><path d="M1185.4 576.7 L1248.9 576.7 L1266.7 579.2 L1292 579.2 L1312.4 616 L1332.7 624.9 L1375.8 637.6 L1400 641.6 L1508.3 647.5 L1594.7 650.9 L1640 652.5 L1681.6 657.3 L1768.2 665.8 L1809.3 670.6 L1828.6 671.8 L1852.8 660.9 L1872.2 633.1 L1880 618.9 L1892.7 580.8 L1901 555.7 L1913 500 L1924.2 457.3 L1931.9 418.6 L1939.2 380 L1943.4 357.5 L1956 280 L1965.8 226.7 L1981.5 152.8 L1994.1 141.8 L2001.9 165.3 L2009.8 223.5 L2013 320 L2015.2 394.3 L2018.4 560 L2018.8 612" stroke="#f00"/><path d="M1185.4 578.5 L1188 578.5 L1190.5 578.5 L1193.1 578.5 L1195.7 578.5 L1198.2 578.5 L1200.8 578.5 L1203.4 578.5 L1204.5 578.5M1209.5 578.5 L1211.1 578.5 L1213.6 578.5 L1216.2 578.5 L1218.5 578.5M1223.5 578.5 L1223.9 578.5 L1226.4 578.5 L1229 578.5 L1231.6 578.5 L1234.1 578.5 L1236.7 578.5 L1239.3 578.5 L1241.8 578.5 L1242.6 578.5M1247.6 578.5 L1249.5 578.5 L1252.1 578.5 L1254.7 578.5 L1256.6 578.5M1261.6 578.5 L1262.3 578.5 L1264.9 578.5 L1267.5 578.5 L1270 578.5 L1272.6 578.5 L1275.2 578.5 L1277.9 578.6 L1280.7 578.7 L1280.7 578.7M1285.7 578.7 L1285.9 578.7 L1288 578.5 L1290.1 577.6 L1292 577 L1294.3 577.7M1299.1 579.1 L1300.4 579.2 L1303.2 579.3 L1306.1 579.2 L1309.1 579.1 L1312 579 L1314.8 579 L1317.6 579 L1318.2 579M1323.2 579 L1325.9 579 L1328.7 579 L1331.5 579 L1332.2 579M1337.2 579 L1339.9 579 L1342.7 579 L1345.5 579 L1348.3 579 L1351.1 579 L1353.9 579 L1356.3 579M1361.3 579 L1362.3 579 L1365.1 579 L1367.9 579 L1370.3 579M1375.3 579 L1376.3 579 L1379.1 579 L1381.8 579 L1384.6 579 L1387.4 579 L1390.2 579 L1393 579 L1394.4 579M1399.4 579 L1401.4 579 L1404.2 579 L1407 579 L1408.4 579M1413.4 579 L1415.4 579 L1418.2 579 L1421 579 L1423.8 579 L1426.6 579 L1429.4 579 L1432.2 579 L1432.5 579M1437.5 579 L1437.7 579 L1440.5 579 L1443.3 579 L1446.1 579 L1446.5 579M1451.5 579 L1451.7 579 L1454.5 579 L1457.3 579 L1460.1 579 L1462.9 579 L1465.7 579 L1468.5 579 L1470.6 579M1475.6 579 L1476.9 579 L1479.7 579 L1482.5 579 L1484.6 579M1489.6 579 L1490.8 579 L1493.6 579 L1496.4 579 L1499.2 579 L1502 579 L1504.8 579 L1507.6 579 L1508.7 579M1513.7 579 L1516 579 L1518.8 579 L1521.6 579 L1522.7 579M1527.7 579 L1530 579 L1532.8 579 L1535.6 579 L1538.4 579 L1541.2 579 L1543.9 579 L1546.7 579 L1546.8 579M1551.8 579 L1552.3 579 L1555.1 579 L1557.9 579 L1560.7 579 L1560.8 579M1565.8 579 L1566.3 579 L1569.1 579 L1571.9 579 L1574.7 579 L1577.5 579 L1580.3 579 L1583.1 579 L1584.9 579M1589.9 579 L1591.5 579 L1594.3 579 L1597.1 579 L1598.9 579M1603.9 579 L1605.4 579 L1608.2 579 L1611 579 L1613.8 579 L1616.6 579 L1619.4 579 L1622.2 579 L1623 579M1628 579 L1630.6 579 L1633.4 579 L1636.2 579 L1637 579M1642 579 L1644.6 579 L1647.4 579 L1650.2 579 L1652.9 579 L1655.7 579 L1658.5 579 L1661.1 579M1666.1 579 L1666.9 579 L1669.7 579 L1672.5 579 L1675.1 579M1680.1 579 L1680.9 579 L1683.7 579 L1686.5 579 L1689.3 579 L1692.1 579 L1694.9 579 L1697.7 579 L1699.2 579M1704.2 579 L1706.1 579 L1708.8 579 L1711.6 579 L1713.2 579M1718.2 579 L1720 579 L1722.8 579 L1725.6 579 L1728.4 579 L1731.2 579 L1734 579 L1736.8 579 L1737.3 579M1742.3 579 L1742.4 579 L1745.2 579 L1748 579 L1750.8 579 L1751.3 579M1756.3 579 L1756.4 579 L1759.2 579 L1761.9 579 L1764.7 579 L1767.5 579 L1770.3 579 L1773.1 579 L1775.4 579M1780.4 579 L1781.5 579 L1784.3 579 L1787.1 579 L1789.4 579M1794.4 579 L1795.5 579 L1798.3 579 L1801.1 579 L1803.9 579 L1806.7 579 L1809.5 579 L1812.3 579 L1813.5 579M1818.5 579 L1820.6 579 L1823.4 579 L1826.2 579 L1827.5 579M1832.5 579 L1834.8 579.1 L1837.7 579.2 L1840.5 579.1 L1843 579 L1846.8 578.4 L1850.3 577.6 L1851.4 577.5M1856.3 576.6 L1857.7 576.3 L1859.9 575.6 L1862.3 574.8 L1864.8 573.9 L1864.9 573.8M1869.6 572.1 L1869.8 572 L1872.2 571.2 L1874.5 570.3 L1876.9 569.4 L1879.4 568.6 L1881.8 567.8 L1884.3 567 L1886.8 566.3 L1887.7 566.1M1892.6 564.8 L1894.5 564.3 L1897 563.6 L1899.6 562.9 L1901.2 562.4M1906 561.1 L1907.2 560.8 L1909.9 560.2 L1912.6 559.7 L1915.3 559.1 L1918.1 558.6 L1920.8 558.1 L1923.6 557.5 L1924.7 557.2M1929.6 556.1 L1931.9 555.7 L1934.4 555.4 L1938.2 555.5 L1938.6 555.5M1943.5 555.9 L1945.2 555.9 L1948.9 556.3 L1951.3 557 L1954 557.9 L1956.8 559 L1959.4 560.3 L1961.5 561.6M1964.9 565.2 L1965 565.4 L1966.5 567.4 L1967.9 569.5 L1969.6 571.4 L1970.4 572.4M1973.5 576.2 L1974.3 577.2 L1976.2 579.9 L1978 582.6 L1979.8 585.4 L1981.6 588 L1983.4 590.6 L1984.3 592M1986.6 596.4 L1987.5 598.3 L1988.5 601 L1989.6 603.6 L1990.1 604.8M1992 609.3 L1992.9 611.3 L1994 613.8 L1995.1 616.4 L1996.1 618.9 L1997.1 621.3 L1998 623.6 L1998.9 626 L1999.2 627M2001 631.7 L2001.5 633.1 L2002.4 635.4 L2003.2 637.8 L2004.1 640.1M2006.2 644.7 L2006.5 645.3 L2007.9 648.4 L2009.5 651.3 L2011 653.4 L2012.4 654.3 L2014.4 652.9 L2016.4 649.7 L2016.9 648.6M2018.4 643.8 L2018.4 643.8 L2018.7 641.3 L2018.7 638.7 L2018.7 636 L2018.8 634.9M2019.1 629.9 L2019.2 628.3 L2019.4 625.8 L2019.6 623.2 L2019.7 620.7 L2019.8 617.6 L2019.8 614.6 L2019.7 611.5 L2019.7 610.8M2019.7 605.8 L2019.7 605.4 L2019.7 602.4 L2019.7 599.3 L2019.7 596.8M2019.7 591.8 L2019.7 590.1 L2019.7 587.1 L2019.7 584" stroke="#00f"/><path d="M1185.4 579.8 L1188.2 579.8 L1190.9 579.8 L1193.7 579.8 L1196.4 579.8 L1199.2 579.8 L1201.9 579.8 L1204.5 579.8M1223.6 579.8 L1224 579.8 L1226.8 579.8 L1229.5 579.8 L1232.3 579.8 L1235 579.8 L1237.8 579.8 L1240.6 579.8 L1242.7 579.8M1261.8 579.8 L1262.6 579.8 L1265.4 579.8 L1268.1 579.8 L1270.9 579.8 L1273.7 579.8 L1276.4 579.8 L1279.2 579.8 L1280.9 579.8M1300 579.8 L1301.2 579.8 L1304 579.8 L1306.7 579.8 L1309.5 579.8 L1312.3 579.8 L1315 579.8 L1317.8 579.8 L1319.1 579.8M1338.2 579.8 L1339.8 579.8 L1342.6 579.8 L1345.4 579.8 L1348.1 579.8 L1350.9 579.8 L1353.6 579.8 L1356.4 579.8 L1357.3 579.8M1376.4 579.8 L1378.5 579.8 L1381.2 579.8 L1384 579.8 L1386.7 579.8 L1389.5 579.8 L1392.2 579.8 L1395 579.8 L1395.5 579.8M1414.6 579.8 L1417.1 579.8 L1419.8 579.8 L1422.6 579.8 L1425.3 579.8 L1428.1 579.8 L1430.9 579.8 L1433.6 579.8 L1433.7 579.8M1452.8 579.8 L1452.9 579.8 L1455.7 579.8 L1458.4 579.8 L1461.2 579.8 L1463.9 579.8 L1466.7 579.8 L1469.5 579.8 L1471.9 579.8M1491 579.8 L1491.5 579.8 L1494.3 579.8 L1497 579.8 L1499.8 579.8 L1502.6 579.8 L1505.3 579.8 L1508.1 579.8 L1510.1 579.8M1529.2 579.8 L1530.1 579.8 L1532.9 579.8 L1535.6 579.8 L1538.4 579.8 L1541.2 579.8 L1543.9 579.8 L1546.7 579.8 L1548.3 579.8M1567.4 579.8 L1568.7 579.8 L1571.5 579.8 L1574.3 579.8 L1577 579.8 L1579.8 579.8 L1582.5 579.8 L1585.3 579.8 L1586.5 579.8M1605.6 579.8 L1607.4 579.8 L1610.1 579.8 L1612.9 579.8 L1615.6 579.8 L1618.4 579.8 L1621.1 579.8 L1623.9 579.8 L1624.7 579.8M1643.8 579.8 L1646 579.8 L1648.7 579.8 L1651.5 579.8 L1654.2 579.8 L1657 579.8 L1659.8 579.8 L1662.5 579.8 L1662.9 579.8M1682 579.8 L1684.6 579.8 L1687.3 579.8 L1690.1 579.8 L1692.8 579.8 L1695.6 579.8 L1698.4 579.8 L1701.1 579.8M1720.2 579.8 L1720.4 579.8 L1723.2 579.8 L1725.9 579.8 L1728.7 579.8 L1731.5 579.8 L1734.2 579.8 L1737 579.8 L1739.3 579.8M1758.4 579.8 L1759 579.8 L1761.8 579.8 L1764.6 579.8 L1767.3 579.8 L1770.1 579.8 L1772.8 579.8 L1775.6 579.8 L1777.5 579.8M1796.6 579.8 L1797.6 579.8 L1800.4 579.8 L1803.2 579.8 L1805.9 579.8 L1808.7 579.8 L1811.4 579.8 L1814.2 579.8 L1815.7 579.8M1833.5 579.8 L1836.1 579.2 L1838.4 578.3 L1840.8 577.5 L1843.2 576.8 L1845.6 576.1 L1848 575.1 L1850.1 573.6 L1851.1 572.8M1865.3 560.1 L1866.9 558.2 L1868.6 555.8 L1870.3 553.3 L1872.2 550.9 L1874 548.5 L1875.8 546 L1876.6 544.7M1885 528.9 L1886.3 526.4 L1887.5 523.7 L1888.7 521 L1889.9 518.2 L1891 515.4 L1892.2 512.6 L1892.7 511.4M1900.3 493.9 L1900.5 493.4 L1901.7 490.6 L1902.9 487.9 L1904.1 485.1 L1905.2 482.4 L1906.2 479.8 L1907.2 477.3 L1907.6 476.2M1914.4 458.4 L1915 456.8 L1916 454.3 L1917 451.7 L1918 449.2 L1919 446.7 L1920 444.1 L1920.9 441.5 L1921.2 440.5M1925.8 422 L1925.9 421.4 L1925.9 421.4M1925.9 421.4 L1926.5 418.9 L1927.2 416.4 L1927.8 413.8 L1928.4 411.3 L1929.1 408.8 L1929.7 406.3 L1930.3 403.8 L1930.5 402.9M1934.7 384.2 L1934.7 384 L1935.3 381.2 L1936 378.3 L1936.6 375.5 L1937.2 372.7 L1937.9 369.8 L1938.5 367 L1938.8 365.6M1943 346.9 L1943.5 344.6 L1944.2 341.9 L1944.8 339.3 L1945.5 336.7 L1946.1 334.1 L1946.8 331.5 L1947.4 328.9 L1947.5 328.4M1952.1 309.8 L1952.5 308 L1953.2 305.3 L1953.8 302.9 L1954.4 300.4 L1955.1 297.8 L1955.7 295.3 L1956.3 292.7 L1956.7 291.3M1960.8 275.1 L1961.4 272.6 L1962 270.1 L1962.7 267.6 L1963.3 265.1 L1963.9 262.5 L1964.5 260 L1965.2 257.5 L1965.4 256.6M1970.4 238.2 L1970.5 237.7 L1971.3 234.8 L1972.1 231.9 L1972.8 229.1 L1973.6 226.2 L1974.3 223.3 L1975.2 220.4 L1975.4 219.7M1981.9 201.8 L1982.5 199.9 L1982.5 199.9M1982.5 199.9 L1983.5 197.5 L1984.7 195.2 L1986.5 192.6 L1988.6 190 L1990.7 188.1 L1992.5 187.4 L1994 188.8 L1994.2 189.3M2001.8 206.7 L2002.4 209.4 L2002.9 212.3 L2003.5 215.1 L2004.2 217.9 L2004.8 220.6 L2005.4 223.3 L2005.9 225.4M2009.3 239.7 L2009.8 242.4 L2010.1 244.9 L2010.3 247.5 L2010.4 250 L2010.5 252.5 L2010.6 255 L2010.8 257.5 L2010.8 258.7M2012.1 277.8 L2012.2 280.1 L2012.4 282.6 L2012.5 285.1 L2012.7 287.6 L2012.9 290.2 L2013 292.7 L2013.1 295.4 L2013.1 296.8M2013.6 315.9 L2013.7 316.8 L2013.8 319.5 L2013.8 322.2 L2013.9 324.9 L2014 327.6 L2014.1 330.3 L2014.1 332.9 L2014.2 335M2014.7 354.1 L2014.7 354.4 L2014.8 357.1 L2014.9 359.8 L2015 362.4 L2015 365.1 L2015.1 367.8 L2015.2 370.5 L2015.2 373.2 L2015.3 373.2M2015.8 392.3 L2015.9 394.6 L2015.9 397.3 L2016 400 L2016.1 402.7 L2016.1 405.4 L2016.1 408.1 L2016.2 410.9 L2016.2 411.4M2016.5 430.5 L2016.5 432.6 L2016.6 435.3 L2016.6 438 L2016.6 440.7 L2016.7 443.4 L2016.7 446.1 L2016.8 448.9 L2016.8 449.6M2017.1 468.7 L2017.1 470.6 L2017.2 473.3 L2017.2 476 L2017.2 478.7 L2017.3 481.4 L2017.3 484.1 L2017.4 486.9 L2017.4 487.8M2017.7 506.9 L2017.7 508.6 L2017.8 511.3 L2017.8 514 L2017.8 516.7 L2017.9 519.4 L2017.9 522.1 L2018 524.9 L2018 526M2018.3 545.1 L2018.3 546.6 L2018.4 549.3 L2018.4 552 L2018.4 554.7 L2018.5 557.4 L2018.5 560.1 L2018.6 562.9 L2018.6 564.2M2018.9 583.3 L2018.9 584.6 L2019 587.3 L2019 590" stroke="#9933cc"/><path d="M1185.4 578 L1187.9 577.8 L1190.5 577.7 L1193 577.5 L1195.6 577.3 L1198.1 577.1 L1200.6 577 L1203.2 576.8 L1205.7 576.6 L1208.3 576.4 L1210.8 576.3 L1213.3 576.1 L1215.9 575.9 L1218.4 575.7 L1221 575.5 L1223.5 575.4 L1226 575.4 L1228.6 575.4 L1231.1 575.5 L1233.7 575.6 L1236.2 575.7 L1238.7 575.8 L1241.3 575.9 L1243.8 575.9 L1246.4 576 L1248.9 576 L1251.4 576.1 L1254 576.2 L1256.5 576.2 L1259.1 576.3 L1261.6 576.4 L1264.2 576.5 L1266.8 576.8 L1269.4 577 L1271.9 577 L1274.3 576.7 L1277.1 575.9 L1279.9 574.8 L1282.4 573.4 L1284.4 571.6 L1285.8 569.2 L1286.7 566.3 L1287.4 563.2 L1288.2 560.2 L1289.1 557.3 L1290 554.4 L1290.9 551.5 L1292 548.7 L1293.2 546 L1294.5 543 L1295.9 540.2 L1297.2 538.1 L1298.4 537.3 L1299.9 538.9 L1301.2 542.4 L1302.2 546.2 L1302.7 548.6 L1303.1 551.1 L1303.4 553.7 L1303.6 556.3 L1303.9 558.9 L1304.2 561.4 L1304.6 564 L1304.9 566.5 L1305.3 569.1 L1305.6 571.6 L1305.9 574.2 L1306.3 576.8 L1306.6 579.4 L1306.9 581.9 L1307.3 584.3 L1307.9 587.5 L1308.4 590.6 L1309 593.6 L1309.6 596.7 L1310.1 599.8 L1310.7 602.9 L1311.1 606.1 L1311.6 609.2 L1312.4 612.2 L1313.8 614.8 L1315.6 617.3 L1317.4 619.8 L1319 622.5 L1320.6 625.2 L1322.5 627.4 L1324.8 628.6 L1327.5 629.3 L1330.2 630 L1332.6 630.9 L1335.1 631.8 L1337.8 632.5 L1340.7 632.7 L1343.8 632.7 L1347.1 632.5 L1350.2 632.4 L1353.3 632.4 L1356.5 632.4 L1359.6 632.4 L1362.7 632.4 L1365.8 632.4 L1368.9 632.4 L1372 632.3 L1375.1 632.3 L1378.2 632.3 L1381.3 632.3 L1384.4 632.3 L1387.6 632.3 L1390.7 632.2 L1393.7 632.2 L1396.9 632.2 L1400 632.2 L1402.7 632.3 L1405.4 632.4 L1408.1 632.5 L1410.8 632.7 L1413.5 632.8 L1416.2 633 L1419 633.1 L1421.7 633.2 L1424.4 633.3 L1427.1 633.5 L1429.8 633.6 L1432.5 633.7 L1435.2 633.9 L1437.9 634 L1440.6 634.1 L1443.3 634.2 L1446 634.4 L1448.7 634.5 L1451.4 634.6 L1454.2 634.8 L1456.9 634.9 L1459.6 635 L1462.3 635.1 L1465 635.3 L1467.7 635.4 L1470.4 635.5 L1473.1 635.6 L1475.8 635.8 L1478.5 635.9 L1481.2 636 L1483.9 636.2 L1486.6 636.3 L1489.3 636.4 L1492.1 636.5 L1494.8 636.7 L1497.5 636.8 L1500.2 636.9 L1502.9 637 L1505.6 637.1 L1508.3 637.3 L1511.4 637.5 L1514.5 637.8 L1517.6 638 L1520.6 638.3 L1523.7 638.5 L1526.8 638.8 L1529.9 639 L1533 639.2 L1536.1 639.5 L1539.2 639.7 L1542.2 640 L1545.3 640.2 L1548.4 640.5 L1551.5 640.7 L1554.6 640.9 L1557.7 641.2 L1560.8 641.4 L1563.8 641.7 L1566.9 641.9 L1570 642.2 L1573.1 642.4 L1576.2 642.6 L1579.3 642.9 L1582.4 643.1 L1585.5 643.4 L1588.6 643.6 L1591.7 643.8 L1594.7 644.1 L1597.6 644.4 L1600.4 644.7 L1603.2 645 L1606 645.3 L1608.9 645.6 L1611.7 645.9 L1614.5 646.2 L1617.3 646.5 L1620.2 646.7 L1623 647 L1625.8 647.3 L1628.7 647.6 L1631.5 647.9 L1634.4 648.2 L1637.2 648.5 L1640 648.8 L1642.6 649.2 L1645.2 649.5 L1647.8 649.9 L1650.4 650.3 L1653 650.7 L1655.6 651.1 L1658.2 651.5 L1660.8 651.8 L1663.4 652.2 L1666 652.6 L1668.6 653 L1671.2 653.4 L1673.8 653.7 L1676.3 654.1 L1678.9 654.5 L1681.6 654.9 L1684.2 655.3 L1687 655.8 L1689.8 656.3 L1692.6 656.8 L1695.4 657.3 L1698.1 657.8 L1700.9 658.3 L1703.6 658.7 L1706.4 659.2 L1709.2 659.7 L1711.9 660.2 L1714.7 660.7 L1717.4 661.1 L1720.2 661.6 L1722.9 662.1 L1725.7 662.6 L1728.5 663 L1731.3 663.5 L1734.1 664 L1736.7 664.5 L1739.4 665.1 L1742 665.7 L1744.6 666.3 L1747.2 666.9 L1749.8 667.5 L1752.4 668.1 L1755.1 668.8 L1757.7 669.4 L1760.3 669.9 L1763 670.5 L1765.6 671.1 L1768.2 671.8 L1770.8 672.7 L1773.4 673.7 L1775.9 674.7 L1778.5 675.7 L1781 676.7 L1783.6 677.7 L1786.2 678.7 L1788.8 679.6 L1791.3 680.6 L1793.9 681.6 L1796.5 682.6 L1799 683.6 L1801.6 684.6 L1804.1 685.6 L1806.7 686.6 L1809.3 687.5 L1811.6 688.3 L1814.1 689 L1816.5 689.7 L1819 690.4 L1821.4 691.1 L1823.8 691.9 L1826.2 692.6 L1828.7 693.3 L1831.1 694 L1833.5 694.8 L1835.9 695.6 L1838.3 696.6 L1840.8 697.5 L1843.2 698.1 L1845.6 698.4 L1848.1 698.2 L1850.7 697.7 L1853.2 696.9 L1855.6 695.9 L1857.7 694.8 L1860 693 L1861.8 690.9 L1863.7 688.8 L1865.7 686.8 L1867.8 684.8 L1869.7 682.7 L1871.5 680.1 L1873.2 677.2 L1874.8 674.3 L1876.6 671.6 L1878.4 668.9 L1880 666 L1881.1 663.3 L1882.1 660.5 L1883.1 657.6 L1884.1 654.7 L1885.1 651.8 L1886.1 649 L1887.1 646.2 L1888.2 643.4 L1889.2 640.5 L1890.2 637.7 L1891.2 634.9 L1892.2 632 L1893.3 629.2 L1894.3 626.4 L1895.3 623.6 L1896.3 620.7 L1897.1 618.3 L1897.8 615.9 L1898.5 613.5 L1899.2 611 L1899.9 608.6 L1900.7 606.2 L1901.4 603.8 L1902.1 601.3 L1902.8 598.9 L1903.6 596.5 L1904.3 594.1 L1905 591.6 L1905.7 589.1 L1906.5 586.7 L1907.2 584.4 L1908.1 582 L1909 579.7 L1909.9 577.4 L1910.7 575 L1911.3 572.6 L1911.9 570 L1912.4 567.4 L1912.9 564.7 L1913.4 562.1 L1914 559.5 L1914.5 556.9 L1915.1 554.3 L1915.6 551.8 L1916.2 549.2 L1916.7 546.6 L1917.3 544 L1917.8 541.4 L1918.4 538.8 L1918.9 536.2 L1919.4 533.7 L1920 531.1 L1920.5 528.5 L1921.1 525.9 L1921.6 523.3 L1922.2 520.8 L1922.7 518.2 L1923.3 515.6 L1923.8 513 L1924.4 510.4 L1924.9 507.8 L1925.5 505.2 L1926 502.6 L1926.6 500 L1927.1 497.5 L1927.6 494.6 L1928.2 491.8 L1928.6 489 L1929.1 486.2 L1929.7 483.4 L1930.2 480.6 L1930.7 477.8 L1931.2 475 L1931.7 472.2 L1932.2 469.4 L1932.7 466.6 L1933.2 463.8 L1933.8 460.9 L1934.3 458.1 L1934.8 455.2 L1935.3 452.5 L1935.9 449.3 L1936.4 446.2 L1936.9 443.1 L1937.4 440 L1938 436.9 L1938.5 433.8 L1939 430.7 L1939.6 427.6 L1940.1 424.4 L1940.5 422 L1940.9 419.5 L1941.3 417 L1941.6 414.4 L1942 411.9 L1942.4 409.4 L1942.8 406.9 L1943.2 404.3 L1943.6 401.8 L1944 399.3 L1944.4 396.8 L1944.8 394.2 L1945.1 391.7 L1945.5 389.2 L1945.9 386.8 L1946.4 383.5 L1946.9 380.2 L1947.4 377 L1947.9 373.8 L1948.5 370.5 L1949 367.3 L1949.5 364.1 L1950 360.8 L1950.5 357.5 L1950.8 355.1 L1951.1 352.6 L1951.4 350.1 L1951.8 347.6 L1952.1 345.1 L1952.4 342.6 L1952.7 340.1 L1953 337.6 L1953.3 335.1 L1953.6 332.7 L1953.9 330.2 L1954.3 327.7 L1954.6 325.2 L1954.9 322.7 L1955.2 320.2 L1955.5 317.8 L1955.8 315.3 L1956.1 312.8 L1956.5 310.3 L1956.8 307.8 L1957.1 305.4 L1957.4 302.9 L1957.7 300.4 L1958 297.9 L1958.3 295.4 L1958.6 292.9 L1958.9 290.5 L1959.3 288 L1959.6 285.5 L1959.9 283 L1960.3 280.4 L1960.6 277.8 L1961 275.2 L1961.4 272.7 L1961.8 270.1 L1962.2 267.5 L1962.5 264.9 L1962.9 262.3 L1963.3 259.7 L1963.7 257.1 L1964.1 254.5 L1964.4 252 L1964.8 249.4 L1965.2 246.8 L1965.6 244.2 L1965.9 241.6 L1966.3 239 L1966.7 236.4 L1967.1 233.8 L1967.5 231.2 L1967.8 228.7 L1968.2 226.1 L1968.6 223.5 L1969 220.9 L1969.3 218.3 L1969.7 215.7 L1970.1 213.1 L1970.5 210.6 L1970.8 208 L1971.2 205.4 L1971.6 202.8 L1972 200.2 L1972.4 197.6 L1972.7 195 L1973.1 192.4 L1973.5 189.9 L1973.9 187.3 L1974.2 184.7 L1974.6 182.1 L1975 179.5 L1975.4 176.9 L1975.7 174.3 L1976.1 171.7 L1976.5 169.1 L1976.8 166.5 L1977.2 163.9 L1977.6 161.3 L1977.9 158.7 L1978.3 156 L1978.7 153.4 L1979 150.8 L1979.4 148.2 L1979.8 145.6 L1980.1 143 L1980.5 140.4 L1980.9 137.8 L1981.2 135.2 L1981.6 132.6 L1981.9 130 L1982.3 127.4 L1982.7 124.8 L1983 122.2 L1983.4 119.6 L1983.8 117 L1984.1 114.4 L1984.5 111.8 L1984.9 109.1 L1985.2 106.5 L1985.6 103.9 L1986 101.3 L1986.3 98.7 L1986.5 96 L1986.8 93.3 L1987.2 90.7 L1987.8 88.3 L1989 85.2 L1990.5 82.3 L1992 79.4 L1993.4 76.4 L1994.8 73.5 L1996.2 70.5 L1997.6 66.9 L1999.1 63.2 L2000.4 61.6 L2001.3 62.7 L2002 65.4 L2002.8 68.6 L2003.5 71.5 L2004.3 74 L2005.1 76.5 L2005.9 79 L2006.7 81.5 L2007.5 83.9 L2008.4 86.3 L2009.2 88.8 L2009.8 91.4 L2010.1 93.9 L2010.3 96.6 L2010.4 99.4 L2010.4 102.2 L2010.5 104.9 L2010.6 107.6 L2010.7 110.3 L2010.9 113 L2011 115.7 L2011.1 118.4 L2011.3 121.1 L2011.4 123.8 L2011.5 126.5 L2011.7 129.2 L2011.8 131.9 L2011.9 134.6 L2012.1 137.3 L2012.2 139.9 L2012.4 142.6 L2012.5 145.3 L2012.6 148 L2012.8 150.7 L2012.9 153.4 L2013 156.1 L2013.2 158.8 L2013.3 161.5 L2013.4 164.2 L2013.6 166.9 L2013.7 169.6 L2013.8 172.3 L2014 175 L2014.1 177.7 L2014.3 180.4 L2014.4 183.1 L2014.5 185.8 L2014.6 188.5 L2014.7 191.2 L2014.7 193.9 L2014.8 196.5 L2014.8 199.2 L2014.9 201.9 L2014.9 204.6 L2015 207.3 L2015.1 210 L2015.1 212.6 L2015.2 215.3 L2015.3 218 L2015.3 220.7 L2015.4 223.4 L2015.5 226.1 L2015.5 228.7 L2015.6 231.4 L2015.7 234.1 L2015.7 236.8 L2015.8 239.5 L2015.8 242.2 L2015.9 244.8 L2016 247.5 L2016 250.2 L2016.1 252.9 L2016.2 255.6 L2016.2 258.3 L2016.3 261 L2016.4 263.6 L2016.4 266.3 L2016.5 269 L2016.5 271.7 L2016.6 274.4 L2016.7 277.1 L2016.7 279.7 L2016.8 282.4 L2016.9 285.1 L2016.9 287.8 L2017 290.5 L2017.1 293.2 L2017.1 295.8 L2017.2 298.5 L2017.3 301.2 L2017.3 303.9 L2017.4 306.6 L2017.4 309.3 L2017.5 312 L2017.6 314.6 L2017.6 317.3 L2017.7 320 L2017.7 322.6 L2017.8 325.2 L2017.8 327.8 L2017.8 330.4 L2017.8 333 L2017.9 335.6 L2017.9 338.2 L2017.9 340.8 L2017.9 343.4 L2018 346 L2018 348.6 L2018 351.2 L2018 353.8 L2018.1 356.4 L2018.1 359 L2018.1 361.6 L2018.1 364.2 L2018.2 366.8 L2018.2 369.4 L2018.2 372 L2018.2 374.6 L2018.3 377.2 L2018.3 379.8 L2018.3 382.4 L2018.3 385 L2018.4 387.6 L2018.4 390.2 L2018.4 392.8 L2018.5 395.4 L2018.5 398 L2018.5 400.6 L2018.5 403.2 L2018.6 405.8 L2018.6 408.4 L2018.6 411 L2018.6 413.6 L2018.7 416.2 L2018.7 418.8 L2018.7 421.4 L2018.7 424 L2018.8 426.6 L2018.8 429.2 L2018.8 431.8 L2018.8 434.4 L2018.9 437 L2018.9 439.6 L2018.9 442.2 L2019 444.8 L2019 447.4 L2019 450 L2019 452.7 L2019 455.4 L2019 458.1 L2019 460.9 L2019 463.6 L2019 466.3 L2019 469 L2019 471.8 L2019 474.5 L2019 477.2 L2019 479.9 L2019 482.6 L2018.9 485.4 L2018.9 488.1 L2018.9 490.8 L2018.9 493.5 L2018.9 496.2 L2018.9 499 L2018.9 501.7 L2018.9 504.4 L2018.9 507.1 L2018.9 509.8 L2018.9 512.6 L2018.9 515.3 L2018.9 518 L2018.9 520.7 L2018.9 523.4 L2018.9 526.2 L2018.9 528.9 L2018.9 531.6 L2018.9 534.3 L2018.9 537 L2018.9 539.8 L2018.9 542.5 L2018.9 545.2 L2018.9 547.9 L2018.9 550.6 L2018.8 553.4 L2018.8 556.1 L2018.8 558.8 L2018.8 561.5 L2018.8 564.2 L2018.8 567 L2018.8 569.7 L2018.8 572.4 L2018.8 575.1 L2018.8 577.8 L2018.8 580.6 L2018.8 583.3 L2018.8 586" stroke="#006400" stroke-dasharray="4.6 4.8"/></g><path d="M137.7 285.2H1002.8" stroke="#000" stroke-width="1.6"/><path d="M1161.4 579.3H2028.2" stroke="#000" stroke-width="1.6"/><path d="M137.7 717.7V708.2M137.7 25.7V35.2M224.2 717.7V708.2M224.2 25.7V35.2M310.7 717.7V708.2M310.7 25.7V35.2M397.2 717.7V708.2M397.2 25.7V35.2M483.7 717.7V708.2M483.7 25.7V35.2M570.2 717.7V708.2M570.2 25.7V35.2M656.8 717.7V708.2M656.8 25.7V35.2M743.3 717.7V708.2M743.3 25.7V35.2M829.8 717.7V708.2M829.8 25.7V35.2M916.3 717.7V708.2M916.3 25.7V35.2M1002.8 717.7V708.2M1002.8 25.7V35.2M137.7 717.7H147.2M1002.8 717.7H993.3M137.7 631.2H147.2M1002.8 631.2H993.3M137.7 544.7H147.2M1002.8 544.7H993.3M137.7 458.2H147.2M1002.8 458.2H993.3M137.7 371.7H147.2M1002.8 371.7H993.3M137.7 285.2H147.2M1002.8 285.2H993.3M137.7 198.7H147.2M1002.8 198.7H993.3M137.7 112.2H147.2M1002.8 112.2H993.3M137.7 25.7H147.2M1002.8 25.7H993.3" stroke="#303030" stroke-width="1.4" fill="none"/><rect x="137.7" y="25.7" width="865.1" height="692" fill="none" stroke="#303030" stroke-width="1.4"/><g font-size="25" fill="#111"><text x="137.7" y="754.6" text-anchor="middle">0</text><text x="224.2" y="754.6" text-anchor="middle">10</text><text x="310.7" y="754.6" text-anchor="middle">20</text><text x="397.2" y="754.6" text-anchor="middle">30</text><text x="483.7" y="754.6" text-anchor="middle">40</text><text x="570.2" y="754.6" text-anchor="middle">50</text><text x="656.8" y="754.6" text-anchor="middle">60</text><text x="743.3" y="754.6" text-anchor="middle">70</text><text x="829.8" y="754.6" text-anchor="middle">80</text><text x="916.3" y="754.6" text-anchor="middle">90</text><text x="1002.8" y="754.6" text-anchor="middle">100</text><text x="125.8" y="727.5" text-anchor="end">-250</text><text x="125.8" y="641" text-anchor="end">-200</text><text x="125.8" y="554.5" text-anchor="end">-150</text><text x="125.8" y="468" text-anchor="end">-100</text><text x="125.8" y="381.5" text-anchor="end">-50</text><text x="125.8" y="295" text-anchor="end">0</text><text x="125.8" y="208.5" text-anchor="end">50</text><text x="125.8" y="122" text-anchor="end">100</text><text x="125.8" y="35.5" text-anchor="end">150</text></g><path d="M1161.4 717.7V708.2M1161.4 25.7V35.2M1248.1 717.7V708.2M1248.1 25.7V35.2M1334.8 717.7V708.2M1334.8 25.7V35.2M1421.4 717.7V708.2M1421.4 25.7V35.2M1508.1 717.7V708.2M1508.1 25.7V35.2M1594.8 717.7V708.2M1594.8 25.7V35.2M1681.5 717.7V708.2M1681.5 25.7V35.2M1768.2 717.7V708.2M1768.2 25.7V35.2M1854.8 717.7V708.2M1854.8 25.7V35.2M1941.5 717.7V708.2M1941.5 25.7V35.2M2028.2 717.7V708.2M2028.2 25.7V35.2M1161.4 717.7H1170.9M2028.2 717.7H2018.7M1161.4 648.5H1170.9M2028.2 648.5H2018.7M1161.4 579.3H1170.9M2028.2 579.3H2018.7M1161.4 510.1H1170.9M2028.2 510.1H2018.7M1161.4 440.9H1170.9M2028.2 440.9H2018.7M1161.4 371.7H1170.9M2028.2 371.7H2018.7M1161.4 302.5H1170.9M2028.2 302.5H2018.7M1161.4 233.3H1170.9M2028.2 233.3H2018.7M1161.4 164.1H1170.9M2028.2 164.1H2018.7M1161.4 94.9H1170.9M2028.2 94.9H2018.7M1161.4 25.7H1170.9M2028.2 25.7H2018.7" stroke="#303030" stroke-width="1.4" fill="none"/><rect x="1161.4" y="25.7" width="866.8" height="692" fill="none" stroke="#303030" stroke-width="1.4"/><g font-size="25" fill="#111"><text x="1161.4" y="754.6" text-anchor="middle">0</text><text x="1248.1" y="754.6" text-anchor="middle">10</text><text x="1334.8" y="754.6" text-anchor="middle">20</text><text x="1421.4" y="754.6" text-anchor="middle">30</text><text x="1508.1" y="754.6" text-anchor="middle">40</text><text x="1594.8" y="754.6" text-anchor="middle">50</text><text x="1681.5" y="754.6" text-anchor="middle">60</text><text x="1768.2" y="754.6" text-anchor="middle">70</text><text x="1854.8" y="754.6" text-anchor="middle">80</text><text x="1941.5" y="754.6" text-anchor="middle">90</text><text x="2028.2" y="754.6" text-anchor="middle">100</text><text x="1149.8" y="727.5" text-anchor="end">-20</text><text x="1149.8" y="658.3" text-anchor="end">-10</text><text x="1149.8" y="589.1" text-anchor="end">0</text><text x="1149.8" y="519.9" text-anchor="end">10</text><text x="1149.8" y="450.7" text-anchor="end">20</text><text x="1149.8" y="381.5" text-anchor="end">30</text><text x="1149.8" y="312.3" text-anchor="end">40</text><text x="1149.8" y="243.1" text-anchor="end">50</text><text x="1149.8" y="173.9" text-anchor="end">60</text><text x="1149.8" y="104.7" text-anchor="end">70</text><text x="1149.8" y="35.5" text-anchor="end">80</text></g><rect x="472.8" y="50.9" width="195" height="181.3" fill="#fff" stroke="#303030" stroke-width="1.3"/><path d="M480.6 71.3H560" stroke="#000" stroke-width="5" stroke-dasharray="19 19"/><path d="M480.6 104H560" stroke="#f00" stroke-width="5"/><path d="M480.6 137H560" stroke="#00f" stroke-width="5" stroke-dasharray="19 5 9 5"/><path d="M480.6 174.7H560" stroke="#9933cc" stroke-width="5" stroke-dasharray="19 19"/><path d="M480.6 212.2H560" stroke="#006400" stroke-width="5" stroke-dasharray="4.6 4.8"/><g font-size="24" fill="#000"><text x="566.5" y="80.2">CFD</text><text x="566.5" y="113.5">LL</text><text x="566.5" y="146.3">BEM</text><text x="566.5" y="179.6">BEM-u<tspan font-size="19" dy="10.5">r</tspan></text><text x="566.5" y="221.8">BEM-VC</text></g><rect x="1209" y="50.9" width="195" height="181.3" fill="#fff" stroke="#303030" stroke-width="1.3"/><path d="M1216.9 71.3H1296" stroke="#000" stroke-width="5" stroke-dasharray="19 19"/><path d="M1216.9 104H1296" stroke="#f00" stroke-width="5"/><path d="M1216.9 137H1296" stroke="#00f" stroke-width="5" stroke-dasharray="19 5 9 5"/><path d="M1216.9 174.7H1296" stroke="#9933cc" stroke-width="5" stroke-dasharray="19 19"/><path d="M1216.9 212.2H1296" stroke="#006400" stroke-width="5" stroke-dasharray="4.6 4.8"/><g font-size="24" fill="#000"><text x="1303" y="80.2">CFD</text><text x="1303" y="113.5">LL</text><text x="1303" y="146.3">BEM</text><text x="1303" y="179.6">BEM-u<tspan font-size="19" dy="10.5">r</tspan></text><text x="1303" y="221.8">BEM-VC</text></g><text x="144" y="58.2" font-size="32">(a)</text><text x="1167" y="59.2" font-size="32">(b)</text><text x="570.3" y="802.4" font-size="37" text-anchor="middle" fill="#1a1a1a">Radius [m]</text><text x="1594.8" y="802.4" font-size="37" text-anchor="middle" fill="#1a1a1a">Radius [m]</text><text transform="translate(55.5 373.6) rotate(-90)" font-size="37" text-anchor="middle" fill="#1a1a1a">Offset of axial load [N m<tspan font-size="27" dy="-18">-1</tspan><tspan dy="18">]</tspan></text><text transform="translate(1094 372.5) rotate(-90)" font-size="37" text-anchor="middle" fill="#1a1a1a">Offset of tangential load [N m<tspan font-size="27" dy="-18">-1</tspan><tspan dy="18">]</tspan></text></svg></body></html>
